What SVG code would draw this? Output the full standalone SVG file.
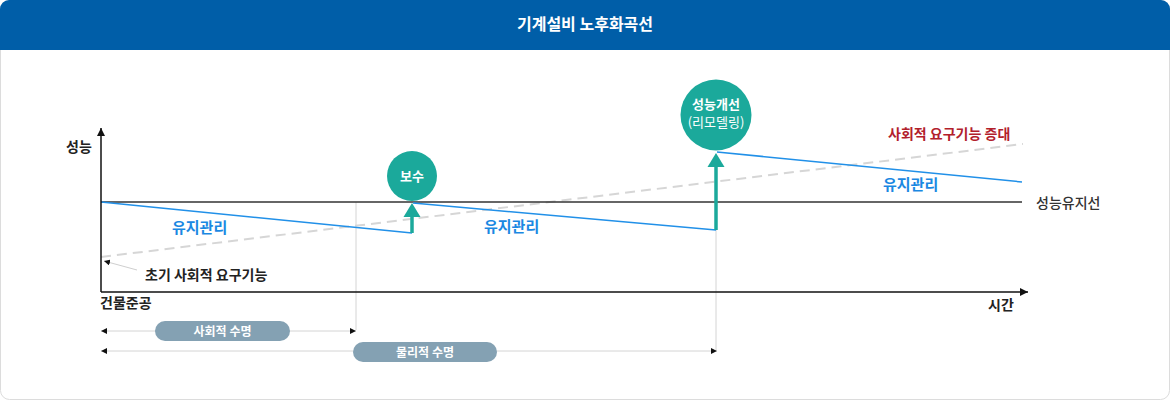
<svg xmlns="http://www.w3.org/2000/svg" width="1170" height="400" viewBox="0 0 1170 400">
<style>
text{font-family:"Noto Sans CJK KR","Noto Sans",sans-serif}
.ax{stroke:#111;stroke-width:1.5;fill:none}
.blue{stroke:#2190e8;stroke-width:1.5;fill:none}
.blt{fill:#1b88e2;font-size:15px;font-weight:700}
.dkb{fill:#222;font-size:14px;font-weight:700}
.guide{stroke:#d4d4d4;stroke-width:1;fill:none}
.teal{fill:#1ba99b}
.pill{fill:#84a1b3}
.pt{fill:#fff;font-size:12px;font-weight:700;text-anchor:middle}
.ct{fill:#fff;font-size:13px;font-weight:700;text-anchor:middle}
</style>
<defs>
<marker id="ah" viewBox="0 0 10 10" refX="10" refY="5" markerWidth="8" markerHeight="8" markerUnits="userSpaceOnUse" orient="auto"><path d="M0,0 L10,5 L0,10 Z" fill="#111"/></marker>
<marker id="sm" viewBox="0 0 10 10" refX="10" refY="5" markerWidth="6" markerHeight="6" markerUnits="userSpaceOnUse" orient="auto-start-reverse"><path d="M0,0 L10,5 L0,10 Z" fill="#111"/></marker>
</defs>
<rect x="0.5" y="0.5" width="1169" height="399" rx="9" fill="#fff" stroke="#dcdcdc"/>
<path d="M0,9 A9,9 0 0 1 9,0 L1161,0 A9,9 0 0 1 1170,9 L1170,50 L0,50 Z" fill="#005ea8"/>
<text x="585" y="30" fill="#fff" font-size="16" font-weight="700" text-anchor="middle">기계설비 노후화곡선</text>
<g id="connectors">
<line class="guide" x1="356" y1="202" x2="356" y2="330"/>
<line class="guide" x1="716" y1="230" x2="716" y2="350"/>
<line x1="101" y1="257" x2="1023" y2="144" stroke="#d6d6d6" stroke-width="2" stroke-dasharray="10 6"/>
<line x1="101" y1="202" x2="1022" y2="202" stroke="#333" stroke-width="1.5"/>
<polyline class="blue" points="101,202 412,233"/>
<polyline class="blue" points="413,203 716,230"/>
<polyline class="blue" points="717,152 1022,182"/>
<line class="ax" x1="101" y1="292" x2="101" y2="128" marker-end="url(#ah)"/>
<line class="ax" x1="101" y1="292" x2="1028" y2="292" marker-end="url(#ah)"/>
<line x1="412" y1="233" x2="412" y2="214" stroke="#1ba99b" stroke-width="3.5"/>
<path class="teal" d="M412,203 L420.5,217 L403.5,217 Z"/>
<line x1="716" y1="230" x2="716" y2="164" stroke="#1ba99b" stroke-width="3.5"/>
<path class="teal" d="M716,153 L724.5,167 L707.5,167 Z"/>
<line x1="137" y1="270" x2="104" y2="261" stroke="#cfcfcf" stroke-width="1" marker-end="url(#sm)"/>
<line x1="101" y1="331" x2="356" y2="331" stroke="#d4d4d4" stroke-width="1" marker-start="url(#sm)" marker-end="url(#sm)"/>
<line x1="101" y1="351" x2="717" y2="351" stroke="#d4d4d4" stroke-width="1" marker-start="url(#sm)" marker-end="url(#sm)"/>
</g>
<g id="axis-labels">
<text class="dkb" x="66" y="152">성능</text>
<text class="dkb" x="100" y="308">건물준공</text>
<text class="dkb" x="988" y="310">시간</text>
<text x="1036" y="208" fill="#333" font-size="14" font-weight="500">성능유지선</text>
<text class="dkb" x="145" y="280">초기 사회적 요구기능</text>
<text x="888" y="139" fill="#b2202b" font-size="14" font-weight="700">사회적 요구기능 증대</text>
</g>
<g id="maint-labels">
<text class="blt" x="172" y="233">유지관리</text>
<text class="blt" x="484" y="232">유지관리</text>
<text class="blt" x="883" y="190">유지관리</text>
</g>
<g id="node-repair">
<circle class="teal" cx="412" cy="176" r="25"/>
<text class="ct" x="412" y="181">보수</text>
</g>
<g id="node-remodel">
<circle class="teal" cx="716" cy="115" r="35.5"/>
<text class="ct" x="716" y="109">성능개선</text>
<text x="716" y="127" fill="#fff" font-size="13" text-anchor="middle">(리모델링)</text>
</g>
<g id="node-social-life">
<rect class="pill" x="155" y="321" width="135" height="20" rx="10"/>
<text class="pt" x="222.5" y="335.5">사회적 수명</text>
</g>
<g id="node-physical-life">
<rect class="pill" x="353" y="342" width="144" height="20" rx="10"/>
<text class="pt" x="425" y="356.5">물리적 수명</text>
</g>
</svg>
